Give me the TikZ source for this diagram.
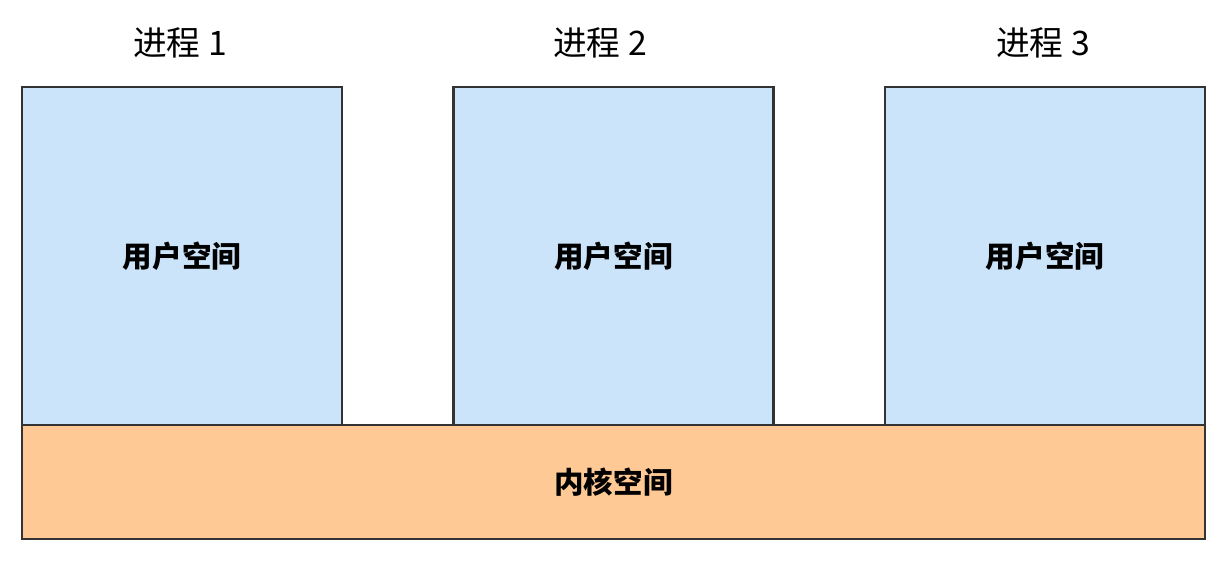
\documentclass[tikz,border=0pt]{standalone}
\usepackage{fontspec}
\setmainfont{Noto Sans CJK SC}
\usepackage{tikz}
\definecolor{userblue}{HTML}{CCE4F9}
\definecolor{kernelorange}{HTML}{FEC994}
\definecolor{edgegray}{HTML}{333333}

\begin{document}
\begin{tikzpicture}[x=0.025cm, y=-0.025cm,
  space/.style={draw=edgegray, line width=1.6pt, inner sep=0pt, outer sep=0pt,
    font=\fontsize{21}{25}\selectfont\bfseries},
  userbox/.style={space, fill=userblue, minimum width=8cm, minimum height=8.45cm},
  kernelbox/.style={space, fill=kernelorange, minimum width=29.575cm, minimum height=2.85cm},
  proc/.style={font=\fontsize{24}{28}\selectfont, inner sep=0pt}]
  \useasboundingbox (0,0) rectangle (1221,568);
	\node[userbox] (U1) at (182,256) {用户空间};
	\node[userbox] (U2) at (613.5,256) {用户空间};
	\node[userbox] (U3) at (1045,256) {用户空间};
	\node[kernelbox] (K) at (613.5,482) {内核空间};
	\node[proc] (P1) at (180,43) {进程 1};
	\node[proc] (P2) at (600,43) {进程 2};
	\node[proc] (P3) at (1043,43) {进程 3};
\end{tikzpicture}
\end{document}
